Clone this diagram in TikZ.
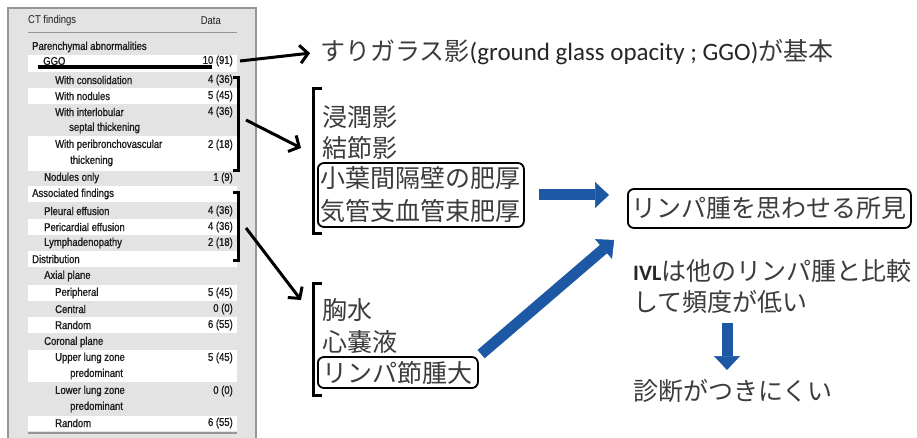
\documentclass[tikz,border=0pt]{standalone}
\usepackage{fontspec}
\usetikzlibrary{arrows.meta,calc}
\newfontfamily\jpfont{Noto Sans CJK JP}
\newfontfamily\latfont{Carlito}
\newfontfamily\tabfont[FakeStretch=0.84,FakeBold=1.2]{Liberation Sans}
\newfontfamily\tabhfont[FakeStretch=0.84]{Liberation Sans}
\definecolor{panelbg}{RGB}{227,227,227}
\definecolor{panelline}{RGB}{150,150,150}
\definecolor{arrowblue}{RGB}{28,88,163}
\definecolor{jptext}{RGB}{60,60,60}
\definecolor{tabtext}{RGB}{30,30,30}
\tikzset{
  tabtxt/.style={font=\tabfont\fontsize{11.3}{11}\selectfont, text=tabtext, inner sep=0pt, anchor=west},
  tabnum/.style={tabtxt, anchor=east},
  tabhead/.style={tabtxt, font=\tabhfont\fontsize{11.3}{11}\selectfont},
  band/.style={fill=white, draw=none},
  bracketline/.style={draw=black, line width=3pt},
  blkarrow/.style={draw=black, line width=3pt, -{Straight Barb[length=8pt,width=18pt]}},
  jp/.style={font=\jpfont\fontsize{25}{33}\selectfont, text=jptext, inner sep=0pt, anchor=west},
  jpbox/.style={jp, draw=black, line width=1.8pt, rounded corners=6pt, inner xsep=3pt},
  bluearr/.style={draw=arrowblue, line width=11pt, -{Triangle[length=14pt,width=26pt,line width=0.5pt]}},
}
\begin{document}
\begin{tikzpicture}[x=1pt,y=-1pt]
\useasboundingbox (0,0) rectangle (917,438);
\fill[white] (0,0) rectangle (917,438);
% table panel
\fill[panelbg] (8,8) rectangle (256,438);
\draw[panelline, line width=1.5pt] (8,438) -- (8,8) -- (256,8) -- (256,438);
\foreach \a/\b in {55/72, 88/104, 136/171, 186/202, 219/235, 251/267, 285/301, 317/333, 350/382, 416/431}
  \fill[band] (28,\a) rectangle (237,\b);
\draw[panelline, line width=0.8pt] (28,32) -- (237,32);
\draw[panelline, line width=1.2pt] (28,433) -- (237,433);
\node[tabhead] (hdr) at (28,21) {CT findings};
\node[tabhead, anchor=east] (hdrdata) at (221,21) {Data};
\foreach \t/\x/\y in {Parenchymal abnormalities/32/47, GGO/43/61, With consolidation/55/80, With nodules/55/96,
  With interlobular/55/112, septal thickening/69/128, With peribronchovascular/55/145, thickening/70/161,
  Nodules only/44/178, Associated findings/32/194, Pleural effusion/44/211, Pericardial effusion/44/227,
  Lymphadenopathy/44/243, Distribution/32/259, Axial plane/44/276, Peripheral/55/293, Central/55/309,
  Random/55/325, Coronal plane/44/342, Upper lung zone/55/358, predominant/70/374, Lower lung zone/55/391,
  predominant/70/407, Random/55/423}
  \node[tabtxt] (r\y) at (\x,\y) {\t};
\foreach \d/\y in {10 (91)/61, 4 (36)/80, 5 (45)/96, 4 (36)/112, 2 (18)/145, 1 (9)/178, 4 (36)/211,
  4 (36)/227, 2 (18)/243, 5 (45)/293, 0 (0)/309, 6 (55)/325, 5 (45)/358, 0 (0)/391, 6 (55)/423}
  \node[tabnum] (d\y) at (233,\y) {\d};
% overlay marks on table
\draw[line width=4pt] (38,67) -- (212,67);
\draw[bracketline] (233,78) -- (238,78) -- (238,171) -- (233,171);
\draw[bracketline] (233,193) -- (238,193) -- (238,260) -- (233,260);
% right side texts
\node[jp] (top) at (320,52) {すりガラス影{\latfont\color{black!85}(ground glass opacity ; GGO)}が基本};
\draw[bracketline] (322,89) -- (313,89) -- (313,233) -- (322,233);
\node[jp] (s1) at (322,117) {浸潤影};
\node[jp] (s2) at (322,148) {結節影};
\node[jpbox, align=left, minimum height=64pt] (box1) at (317,195) {小葉間隔壁の肥厚\\気管支血管束肥厚};
\draw[bracketline] (322,283) -- (313,283) -- (313,395) -- (322,395);
\node[jp] (t1) at (322,310) {胸水};
\node[jp] (t2) at (322,342) {心嚢液};
\node[jpbox, minimum height=31pt, inner xsep=5pt] (box3) at (317,372.5) {リンパ節腫大};
\node[jpbox, minimum height=39pt, inner xsep=4pt] (lym) at (627,208.5) {リンパ腫を思わせる所見};
\node[jp] (ivl1) at (633,271) {{\latfont\bfseries\fontsize{22}{22}\selectfont\color{black!85}IVL}は他のリンパ腫と比較};
\node[jp] (ivl2) at (633,302) {して頻度が低い};
\node[jp] (diag) at (633,391) {診断がつきにくい};
% black arrows
\coordinate (aB1) at (246,120);
\coordinate (aB2) at (301,148);
\coordinate (aC1) at (246,228);
\coordinate (aC2) at (301,300);
\draw[blkarrow, shorten >=10pt] ([xshift=7pt]d61.east) -- (top.west);
\draw[blkarrow] (aB1) -- (aB2);
\draw[blkarrow] (aC1) -- (aC2);
% blue arrows
\coordinate (dA) at (727,323);
\coordinate (dB) at (727,370);
\draw[bluearr, shorten <=14pt, shorten >=18pt] (box1.east) -- (box1.east -| lym.west);
\draw[bluearr, shorten <=3pt, shorten >=17pt] (box3.north east) -- (lym.south west);
\draw[bluearr] (dA) -- (dB);
\end{tikzpicture}
\end{document}
